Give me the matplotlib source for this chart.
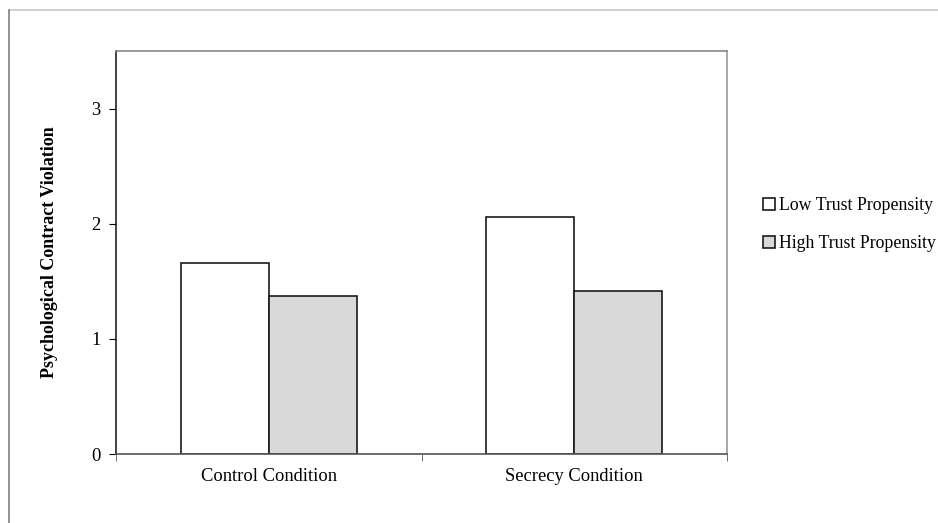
import numpy as np
import matplotlib.pyplot as plt
from matplotlib.lines import Line2D

plt.rcParams['font.family'] = ['Liberation Serif', 'DejaVu Serif']

conditions = ['Control Condition', 'Secrecy Condition']
series = ['Low Trust Propensity', 'High Trust Propensity']
low_trust = [1.66, 2.06]
high_trust = [1.37, 1.42]
colors = ['white', '#d9d9d9']

fs = 13.3

fig = plt.figure(figsize=(9.38, 5.23), dpi=100)
ax = fig.add_axes([0.1237, 0.1319, 0.6514, 0.7706])

x = np.arange(len(conditions))
w = 0.288
b1 = ax.bar(x - w/2, low_trust, w, color=colors[0], edgecolor='#1a1a1a', linewidth=1.2, label=series[0])
b2 = ax.bar(x + w/2, high_trust, w, color=colors[1], edgecolor='#1a1a1a', linewidth=1.2, label=series[1])

ax.set_xlim(-0.5, 1.5)
ax.set_ylim(0, 3.5)
ax.set_yticks([0, 1, 2, 3])
ax.set_xticks(x)
ax.set_xticklabels(conditions, fontsize=fs)
ax.tick_params(axis='x', length=0, pad=10)
# category boundary ticks
ax.set_xticks([-0.5, 0.5, 1.5], minor=True)
ax.tick_params(axis='x', which='minor', length=5, direction='out', color='#555555')
ax.tick_params(axis='y', length=5, direction='out', labelsize=fs, pad=6)

ax.spines['left'].set_color('#222222')
ax.spines['bottom'].set_color('#555555')
ax.spines['top'].set_color('#888888')
ax.spines['right'].set_color('#999999')
for s in ax.spines.values():
    s.set_linewidth(1.2)

ax.set_ylabel('Psychological Contract Violation', fontsize=13, fontweight='bold', labelpad=24)

fig.legend(handles=[b1, b2], labels=series, loc='center left',
           bbox_to_anchor=(0.8134, 0.5705), frameon=False, fontsize=12.8,
           handlelength=0.7, handleheight=0.7, handletextpad=0.2,
           labelspacing=1.2, borderaxespad=0, borderpad=0)

# outer frame lines
fig.add_artist(Line2D([0.0096, 1.0], [0.981, 0.981], transform=fig.transFigure, color='#c8c8c8', linewidth=1.2))
fig.add_artist(Line2D([0.0096, 0.0096], [0.0, 0.981], transform=fig.transFigure, color='#808080', linewidth=1.2))

fig.savefig('out.png', dpi=100)
